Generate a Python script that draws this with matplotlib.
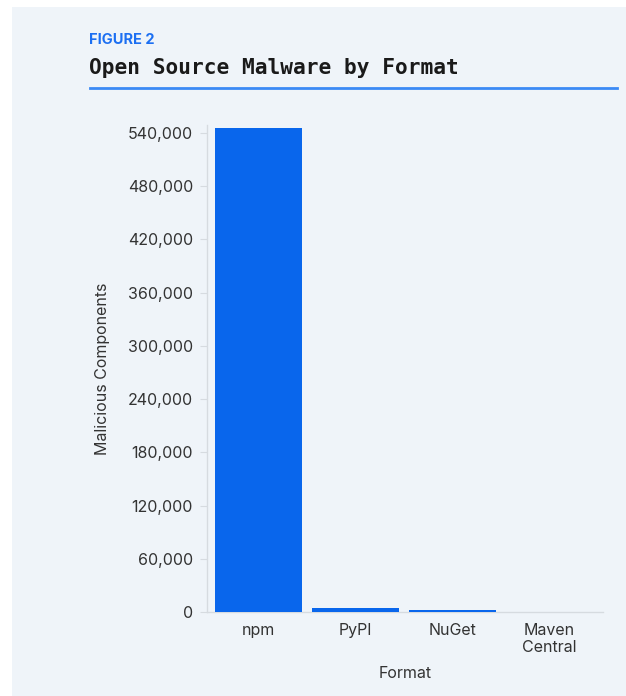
import matplotlib
matplotlib.use("Agg")
import matplotlib.pyplot as plt
from matplotlib.ticker import FuncFormatter

formats = ["npm", "PyPI", "NuGet", "Maven\nCentral"]
malicious = [546000, 4200, 2000, 300]
yticks = [0, 60000, 120000, 180000, 240000, 300000, 360000, 420000, 480000, 540000]

bg = "#eff4f9"
bar_blue = "#0966ec"
line_blue = "#3b8af5"
grey_txt = "#333333"
axis_grey = "#d6dbe0"

plt.rcParams['font.family'] = ['Inter', 'DejaVu Sans']

fig = plt.figure(figsize=(6.26, 6.96), dpi=100)
fig.patch.set_facecolor("white")
# light panel behind everything
fig.patches.append(plt.Rectangle((12/626, 0), 1 - 12/626, 1 - 7/696,
                                 transform=fig.transFigure, facecolor=bg,
                                 edgecolor="none", zorder=-10))

fig.text(89/626, 1 - 44/696, "FIGURE 2", color="#1c6ff2", fontsize=10.5,
         fontweight="bold", ha="left", va="baseline")
fig.text(89/626, 1 - 74/696, "Open Source Malware by Format",
         family="DejaVu Sans Mono", fontsize=15.2, fontweight="bold",
         color="#1a1a1a", ha="left", va="baseline")
fig.add_artist(plt.Line2D([90/626, 617/626], [1 - 88/696, 1 - 88/696],
                          transform=fig.transFigure, color=line_blue, lw=2))

ax = fig.add_axes([207/626, 1 - 612/696, (603 - 207)/626, (612 - 125)/696])
ax.set_facecolor(bg)
ax.bar(range(len(formats)), malicious, width=0.9, color=bar_blue, zorder=3)

ax.set_xlim(-0.53, 3.55)
ax.set_ylim(0, 549000)
ax.set_yticks(yticks)
ax.yaxis.set_major_formatter(FuncFormatter(lambda v, p: f"{int(v):,}"))
ax.set_xticks(range(len(formats)))
ax.set_xticklabels(formats, linespacing=1.15)

for s in ["top", "right"]:
    ax.spines[s].set_visible(False)
for s in ["left", "bottom"]:
    ax.spines[s].set_color(axis_grey)
    ax.spines[s].set_linewidth(1)

ax.tick_params(axis="y", length=5, color=axis_grey, labelsize=11.5,
               labelcolor=grey_txt, pad=5)
ax.tick_params(axis="x", length=0, labelsize=11.5, labelcolor=grey_txt, pad=8)

ax.set_ylabel("Malicious Components", fontsize=11.5, color=grey_txt, labelpad=13)
ax.set_xlabel("Format", fontsize=11.5, color=grey_txt, labelpad=8)

fig.savefig("out.png", dpi=100, facecolor=fig.get_facecolor())
